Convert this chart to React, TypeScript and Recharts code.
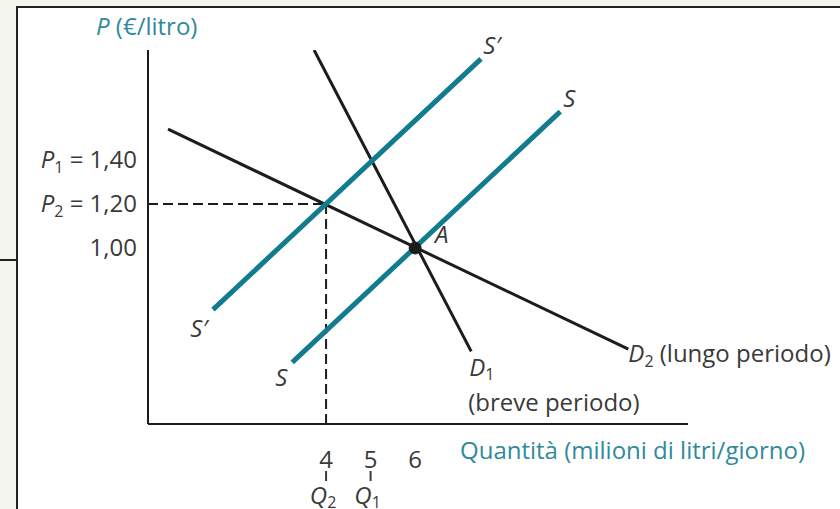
import React from "react";
import {
  ComposedChart,
  Line,
  XAxis,
  YAxis,
  ReferenceLine,
  ReferenceDot,
  LabelList,
} from "recharts";

// curve end points (quantity in millions of litres/day, price in €/litre)
const supplyQ = [3.24, 9.26];
const supplyP = [0.48, 1.62];
const supplyNewQ = [1.46, 7.48];
const supplyNewP = [0.72, 1.86];
const demandShortQ = [3.73, 7.26];
const demandShortP = [1.9, 0.53];
const demandLongQ = [0.45, 10.79];
const demandLongP = [1.54, 0.54];

const equilibrium = { q: 6, p: 1.0 };
const newPoint = { q: 4, p: 1.2 };

const xTicks = [4, 5, 6];
const xTickNames: Record<number, string> = { 4: "2", 5: "1" };
const yTicks = [1.0, 1.2, 1.4];
const yTickNames: Record<number, string> = { 1.4: "1", 1.2: "2" };

const TEAL = "#137b8f";
const TEAL_TEXT = "#2f8a9c";
const INK = "#1c1c1c";
const TEXT = "#3a3a3a";
const FONT = "'Open Sans', Lato, sans-serif";
const FS = 24;
const SUB = 16;

const toRows = (qs: number[], ps: number[]) => qs.map((q, i) => ({ q, p: ps[i] }));

const supply = toRows(supplyQ, supplyP);
const supplyNew = toRows(supplyNewQ, supplyNewP);
const demandShort = toRows(demandShortQ, demandShortP);
const demandLong = toRows(demandLongQ, demandLongP);

const fmt = (v: number) => v.toFixed(2).replace(".", ",");

function XTick({ x, y, payload }: any) {
  const sub = xTickNames[payload.value];
  return (
    <g fontFamily={FONT} fill={TEXT}>
      <text x={x} y={y + 36} textAnchor="middle" fontSize={FS}>
        {payload.value}
      </text>
      {sub && (
        <>
          <line x1={x} x2={x} y1={y + 39} y2={y + 49} stroke={TEXT} strokeWidth={2} />
          <text x={x - 3} y={y + 72} textAnchor="middle" fontSize={FS}>
            <tspan fontStyle="italic">Q</tspan>
            <tspan fontSize={SUB} dy={4}>{sub}</tspan>
          </text>
        </>
      )}
    </g>
  );
}

function YTick({ x, y, payload }: any) {
  const sub = yTickNames[Math.round(payload.value * 10) / 10];
  return (
    <text x={x - 3} y={y + 8} textAnchor="end" fontSize={FS} fontFamily={FONT} fill={TEXT}>
      {sub && (
        <>
          <tspan fontStyle="italic">P</tspan>
          <tspan fontSize={SUB} dy={5}>{sub}</tspan>
          <tspan dy={-5}>{" = "}</tspan>
        </>
      )}
      {fmt(payload.value)}
    </text>
  );
}

// puts a label next to the first and/or last point of a line
function endLabels(
  first: React.ReactNode,
  last: React.ReactNode,
  d0: [number, number],
  d1: [number, number],
  anchor: "start" | "middle" = "middle"
) {
  return (props: any) => {
    const { x, y, index } = props;
    const node = index === 0 ? first : last;
    const d = index === 0 ? d0 : d1;
    if (!node) return null;
    return (
      <text
        x={x + d[0]}
        y={y + d[1]}
        fontSize={FS}
        fontFamily={FONT}
        fill={TEXT}
        textAnchor={anchor}
      >
        {node}
      </text>
    );
  };
}

const sLabel = (prime: boolean) => (
  <tspan fontStyle="italic">{prime ? "S\u2032" : "S"}</tspan>
);

function ShortRunLabel(props: any) {
  const { x, y, index } = props;
  if (index !== 1) return null;
  return (
    <g fontSize={FS} fontFamily={FONT} fill={TEXT}>
      <text x={x - 2} y={y + 25}>
        <tspan fontStyle="italic">D</tspan>
        <tspan fontSize={SUB} dy={4}>1</tspan>
      </text>
      <text x={x - 3} y={y + 60}>(breve periodo)</text>
    </g>
  );
}

export default function App() {
  return (
    <div
      style={{
        position: "absolute",
        left: 0,
        top: 0,
        width: 840,
        height: 509,
        background: "#f4f6ec",
        overflow: "hidden",
      }}
    >
      <div
        style={{
          position: "absolute",
          left: 0,
          top: 259,
          width: 18,
          height: 2,
          background: "#222",
        }}
      />
      <div
        style={{
          position: "absolute",
          left: 16,
          top: 6,
          width: 840,
          height: 520,
          background: "#fff",
          borderLeft: "2px solid #222",
          borderTop: "2px solid #222",
        }}
      />
      <div style={{ position: "absolute", left: 0, top: 0 }}>
        <ComposedChart
          width={840}
          height={509}
          margin={{ top: 50, right: 152, bottom: 5, left: 18 }}
        >
          <XAxis
            type="number"
            dataKey="q"
            domain={[0, 12.13]}
            ticks={xTicks}
            allowDataOverflow
            height={80}
            tickLine={false}
            axisLine={{ stroke: INK, strokeWidth: 2 }}
            tick={<XTick />}
            label={{
              content: (p: any) => (
                <text
                  x={p.viewBox.x + 312}
                  y={p.viewBox.y + 35}
                  fontSize={FS}
                  fontFamily={FONT}
                  fill={TEAL_TEXT}
                >
                  Quantità (milioni di litri/giorno)
                </text>
              ),
            }}
          />
          <YAxis
            type="number"
            dataKey="p"
            domain={[0.2, 1.9]}
            ticks={yTicks}
            allowDataOverflow
            width={130}
            tickLine={false}
            axisLine={{ stroke: INK, strokeWidth: 2 }}
            tick={<YTick />}
            label={{
              content: (p: any) => (
                <text
                  x={p.viewBox.x + p.viewBox.width - 52}
                  y={p.viewBox.y - 15}
                  fontSize={FS}
                  fontFamily={FONT}
                  fill={TEAL_TEXT}
                >
                  <tspan fontStyle="italic">P</tspan> (€/litro)
                </text>
              ),
            }}
          />
          <ReferenceLine
            segment={[
              { x: 0, y: newPoint.p },
              { x: newPoint.q, y: newPoint.p },
            ]}
            stroke={INK}
            strokeWidth={2}
            strokeDasharray="10 5"
          />
          <ReferenceLine
            segment={[
              { x: newPoint.q, y: newPoint.p },
              { x: newPoint.q, y: 0.2 },
            ]}
            stroke={INK}
            strokeWidth={2}
            strokeDasharray="10 5"
          />
          <Line
            data={demandLong}
            dataKey="p"
            stroke={INK}
            strokeWidth={3}
            dot={false}
            isAnimationActive={false}
          >
            <LabelList
              content={endLabels(
                null,
                <>
                  <tspan fontStyle="italic">D</tspan>
                  <tspan fontSize={SUB} dy={5}>2</tspan>
                  <tspan dy={-5}> (lungo periodo)</tspan>
                </>,
                [0, 0],
                [0, 13],
                "start"
              )}
            />
          </Line>
          <Line
            data={demandShort}
            dataKey="p"
            stroke={INK}
            strokeWidth={3}
            dot={false}
            isAnimationActive={false}
          >
            <LabelList content={<ShortRunLabel />} />
          </Line>
          <Line
            data={supply}
            dataKey="p"
            stroke={TEAL}
            strokeWidth={5}
            dot={false}
            isAnimationActive={false}
          >
            <LabelList content={endLabels(sLabel(false), sLabel(false), [-11, 24], [9, -5])} />
          </Line>
          <Line
            data={supplyNew}
            dataKey="p"
            stroke={TEAL}
            strokeWidth={5}
            dot={false}
            isAnimationActive={false}
          >
            <LabelList content={endLabels(sLabel(true), sLabel(true), [-14, 27], [11, -5])} />
          </Line>
          <ReferenceDot
            x={equilibrium.q}
            y={equilibrium.p}
            r={6}
            fill={INK}
            stroke={INK}
            label={{
              content: (p: any) => (
                <text
                  x={p.viewBox.x + 26}
                  y={p.viewBox.y + 1}
                  fontSize={FS}
                  fontFamily={FONT}
                  fontStyle="italic"
                  fill={TEXT}
                >
                  A
                </text>
              ),
            }}
          />
        </ComposedChart>
      </div>
    </div>
  );
}
